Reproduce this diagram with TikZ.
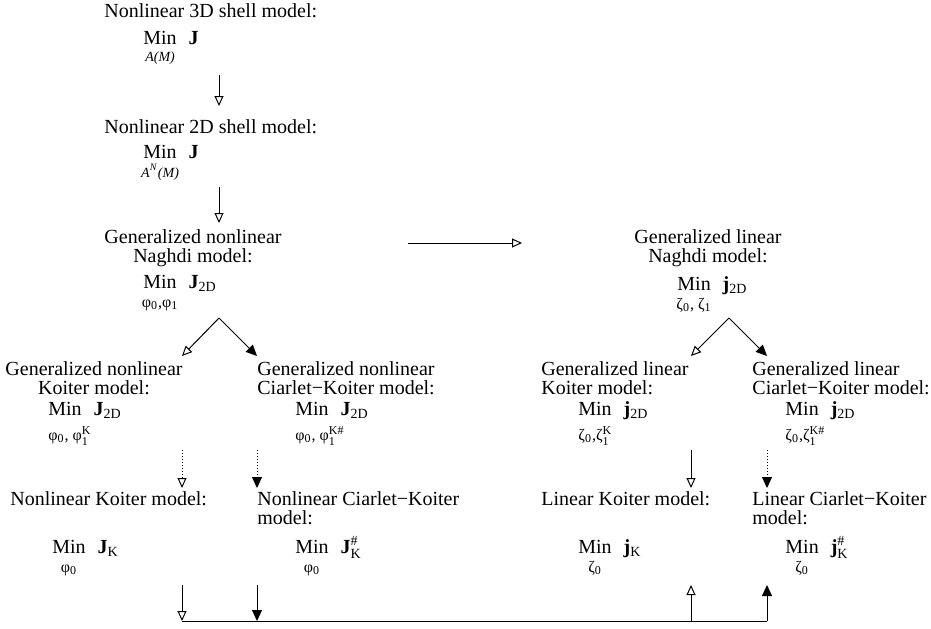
\documentclass[tikz,border=0pt]{standalone}
\usepackage{fontspec}
\setmainfont{Liberation Serif}
\usepackage{amsmath}
\usetikzlibrary{arrows.meta,positioning}

% Min over a set (row skip, set, functional)
\newcommand{\minof}[4][c]{\begin{tabular}[t]{@{}#1@{\hspace{6pt}}l@{}}Min & #4\\[#2]
  \makebox[0pt][#1]{\footnotesize #3} & \end{tabular}}

\begin{document}
\begin{tikzpicture}[x=0.5pt, y=-0.5pt,
    lbl/.style = {anchor=base west, inner sep=0pt, font=\fontsize{10}{9.5}\selectfont},
    opn/.style = {-{Triangle[open, length=5pt, width=4.5pt]}, line width=0.5pt},
    fil/.style = {-{Triangle[length=5.5pt, width=5pt]}, line width=0.5pt}]
    \useasboundingbox (0,0) rectangle (931,628);

    % Draw the 3D and 2D shell models
    \node[lbl] (shell3d) at (104,17) {Nonlinear 3D shell model:};
    \node[lbl] (min3d) at (143,44) {\minof{-1pt}{\scriptsize\textit{A(M)}}{\textbf{J}}};
    \node[lbl] (shell2d) at (104,133) {Nonlinear 2D shell model:};
    \node[lbl] (min2d) at (143,158) {\minof{0pt}{\scriptsize\textit{A}$^{\text{\textit{N}}}$\textit{(M)}}{\textbf{J}}};

    % Naghdi models (base is the last line)
    \node[lbl, anchor=base, align=center] (naghdiN) at (193,262) {Generalized nonlinear\\Naghdi model:};
    \node[lbl] (minNN) at (143,288) {\minof{0pt}{φ$_{\text{0}}$,φ$_{\text{1}}$}{\textbf{J}$_{\text{2D}}$}};
    \node[lbl, anchor=base, align=center] (naghdiL) at (708,262) {Generalized linear\\Naghdi model:};
    \node[lbl] (minNL) at (677,290) {\minof{0pt}{ζ$_{\text{0}}$, ζ$_{\text{1}}$}{\textbf{j}$_{\text{2D}}$}};

    % Generalized Koiter models
    \node[lbl, anchor=base, align=center] (gkN) at (94,394) {Generalized nonlinear\\Koiter model:};
    \node[lbl] (minGkN) at (48,415) {\minof[l]{3pt}{φ$_{\text{0}}$, φ$_{\text{1}}^{\text{K}}$}{\textbf{J}$_{\text{2D}}$}};
    \node[lbl, align=left] (gckN) at (257,394) {Generalized nonlinear\\Ciarlet−Koiter model:};
    \node[lbl] (minGckN) at (295,415) {\minof[l]{3pt}{φ$_{\text{0}}$, φ$_{\text{1}}^{\text{K\#}}$}{\textbf{J}$_{\text{2D}}$}};
    \node[lbl, align=left] (gkL) at (541,394) {Generalized linear\\Koiter model:};
    \node[lbl] (minGkL) at (578,415) {\minof[l]{3pt}{ζ$_{\text{0}}$,ζ$_{\text{1}}^{\text{K}}$}{\textbf{j}$_{\text{2D}}$}};
    \node[lbl, align=left] (gckL) at (752,394) {Generalized linear\\Ciarlet−Koiter model:};
    \node[lbl] (minGckL) at (785,415) {\minof[l]{3pt}{ζ$_{\text{0}}$,ζ$_{\text{1}}^{\text{K\#}}$}{\textbf{j}$_{\text{2D}}$}};

    % Koiter models
    \node[lbl] (kN) at (10,505) {Nonlinear Koiter model:};
    \node[lbl] (minKN) at (52,553) {\minof{0pt}{φ$_{\text{0}}$}{\textbf{J}$_{\text{K}}$}};
    \node[lbl, align=left] (ckN) at (257,524) {Nonlinear Ciarlet−Koiter\\model:};
    \node[lbl] (minCkN) at (295,553) {\minof{0pt}{φ$_{\text{0}}$}{\textbf{J}$^{\text{\#}}_{\text{K}}$}};
    \node[lbl] (kL) at (541,505) {Linear Koiter model:};
    \node[lbl] (minKL) at (578,553) {\minof{0pt}{ζ$_{\text{0}}$}{\textbf{j}$_{\text{K}}$}};
    \node[lbl, align=left] (ckL) at (752,524) {Linear Ciarlet−Koiter\\model:};
    \node[lbl] (minCkL) at (785,553) {\minof{0pt}{ζ$_{\text{0}}$}{\textbf{j}$^{\text{\#}}_{\text{K}}$}};

    % Arrow end points
    \coordinate (a3d) at (219,75);   \coordinate (a2d) at (219,106);
    \coordinate (b2d) at (219,187);  \coordinate (bN) at (219,223);
    \coordinate (hN) at (408,243);   \coordinate (hL) at (522,243);
    \coordinate (forkN) at (219,318); \coordinate (forkL) at (729,318);
    \foreach \n/\x in {1/182, 2/257, 3/691, 4/767}{
        \coordinate (up\n) at (\x,356);
        \coordinate (top\n) at (\x,450);
        \coordinate (mid\n) at (\x,488);
        \coordinate (low\n) at (\x,585);
        \coordinate (bot\n) at (\x,621);
    }

    % Draw the arrows
    \draw[opn] (a3d) -- (a2d);
    \draw[opn] (b2d) -- (bN);
    \draw[opn] (hN) -- (hL);
    \draw[opn] (forkN) -- (up1);
    \draw[fil] (forkN) -- (up2);
    \draw[opn] (forkL) -- (up3);
    \draw[fil] (forkL) -- (up4);
    \draw[opn, densely dotted] (top1) -- (mid1);
    \draw[fil, densely dotted] (top2) -- (mid2);
    \draw[opn] (top3) -- (mid3);
    \draw[fil, densely dotted] (top4) -- (mid4);

    % Bottom connection
    \draw[line width=0.5pt] (bot1) -- (bot4);
    \draw[opn] (low1) -- (bot1);
    \draw[fil] (low2) -- (bot2);
    \draw[opn] (bot3) -- (low3);
    \draw[fil] (bot4) -- (low4);

\end{tikzpicture}
\end{document}
